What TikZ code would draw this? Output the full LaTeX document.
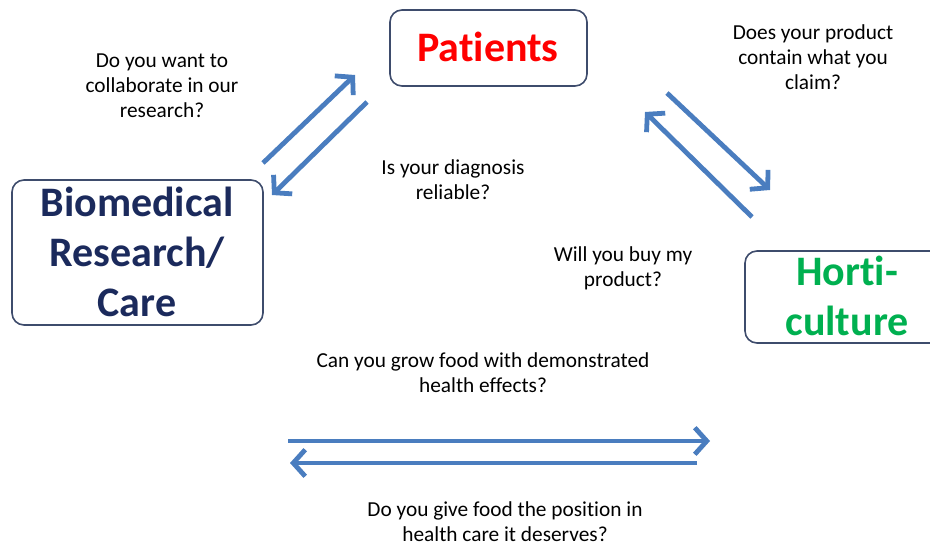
\documentclass[tikz,border=0pt]{standalone}
\usepackage{fontspec}
\setmainfont[Ligatures=NoCommon, RawFeature={-calt}]{Carlito}
\usetikzlibrary{arrows.meta}
\definecolor{arrowblue}{HTML}{4A7DBF}
\definecolor{boxline}{HTML}{3E4C6C}
\definecolor{navy}{HTML}{1B2A5C}
\definecolor{hortigreen}{HTML}{00B050}
\tikzset{
  box/.style={draw=boxline, line width=1.2pt, rounded corners=9pt, fill=white},
  bigtext/.style={font=\bfseries\fontsize{31.5}{37.5}\selectfont, align=center},
  question/.style={font=\fontsize{16}{18.8}\selectfont, align=center, text=black},
  link/.style={draw=arrowblue, line width=3.6pt, -{Straight Barb[length=9pt,width=20pt,line width=3.6pt]}}
}
\begin{document}
\begin{tikzpicture}[x=0.75pt,y=-0.75pt]
  \useasboundingbox (0,0) rectangle (930,548);
  \clip (0,0) rectangle (930,548);
  % the three boxes
  \draw[box] (390,10) rectangle (587,86);
  \node[bigtext, text=red] (P) at (488,47) {Pat{}ients};
  \draw[box] (12,180) rectangle (263,325);
  \node[bigtext, text=navy] (B) at (137,252) {Biomedical\\Research/\\Care};
  \draw[box] (745,251) rectangle (948,343);
  \node[bigtext, text=hortigreen] (H) at (847,296) {Hort{}i-\\culture};
  % questions
  \node[question] (Q1) at (162,86) {Do you want to\\collaborate in our\\research?};
  \node[question] (Q2) at (813,57) {Does your product\\contain what you\\claim?};
  \node[question] (Q3) at (453,180) {Is your diagnosis\\reliable?};
  \node[question] (Q4) at (623,268) {Will you buy my\\product?};
  \node[question] (Q5) at (483,373) {Can you grow food with demonstrated\\health effects?};
  \node[question] (Q6) at (505,522) {Do you give food the posit{}ion in\\health care it deserves?};
  % arrow ends
  \coordinate (a0) at (263,163);
  \coordinate (a1) at (355,75);
  \coordinate (b0) at (367,102);
  \coordinate (b1) at (272,195);
  \coordinate (c0) at (667,93);
  \coordinate (c1) at (770,190);
  \coordinate (d0) at (752,217);
  \coordinate (d1) at (645,112);
  \coordinate (e0) at (288,441);
  \coordinate (e1) at (710,441);
  \coordinate (f0) at (697,463);
  \coordinate (f1) at (290,463);
  \draw[link] (a0) -- (a1);
  \draw[link] (b0) -- (b1);
  \draw[link] (c0) -- (c1);
  \draw[link] (d0) -- (d1);
  \draw[link] (e0) -- (e1);
  \draw[link] (f0) -- (f1);
\end{tikzpicture}
\end{document}
